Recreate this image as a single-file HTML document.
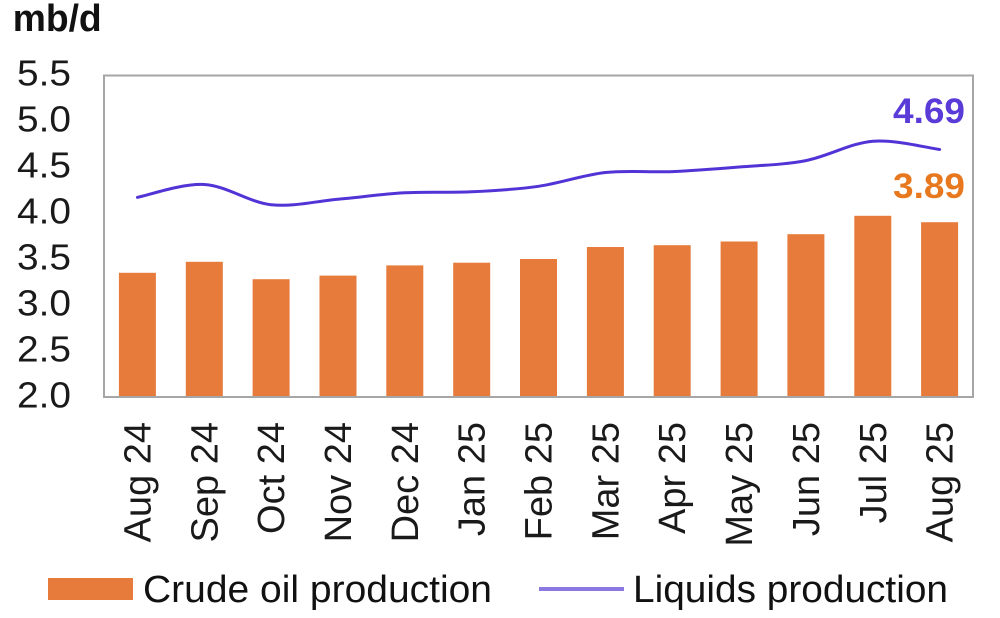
<!DOCTYPE html>
<html>
<head>
<meta charset="utf-8">
<style>
  html, body { margin: 0; padding: 0; background: #ffffff; }
  body { width: 1000px; height: 618px; overflow: hidden; }
  svg { display: block; }
  text { font-family: "Liberation Sans", Arial, sans-serif; }
</style>
</head>
<body>
<svg width="1000" height="618" viewBox="0 0 1000 618" xmlns="http://www.w3.org/2000/svg">
  <rect x="0" y="0" width="1000" height="618" fill="#ffffff"/>

  <!-- unit label -->
  <text x="12.7" y="31" font-size="38" font-weight="bold" fill="#111" textLength="89" lengthAdjust="spacingAndGlyphs">mb/d</text>

  <!-- y tick labels -->
  <g font-size="36" fill="#1a1a1a" text-anchor="end">
    <text x="71" y="85.5" textLength="54" lengthAdjust="spacingAndGlyphs">5.5</text>
    <text x="71" y="131.5" textLength="54" lengthAdjust="spacingAndGlyphs">5.0</text>
    <text x="71" y="177.5" textLength="54" lengthAdjust="spacingAndGlyphs">4.5</text>
    <text x="71" y="223.5" textLength="54" lengthAdjust="spacingAndGlyphs">4.0</text>
    <text x="71" y="269.5" textLength="54" lengthAdjust="spacingAndGlyphs">3.5</text>
    <text x="71" y="315.5" textLength="54" lengthAdjust="spacingAndGlyphs">3.0</text>
    <text x="71" y="361.5" textLength="54" lengthAdjust="spacingAndGlyphs">2.5</text>
    <text x="71" y="407.5" textLength="54" lengthAdjust="spacingAndGlyphs">2.0</text>
  </g>

  <!-- bars -->
  <g fill="#E67B3C">
    <rect x="118.9" y="272.8" width="37" height="124.2"/>
    <rect x="185.8" y="261.8" width="37" height="135.2"/>
    <rect x="252.6" y="279.2" width="37" height="117.8"/>
    <rect x="319.5" y="275.6" width="37" height="121.4"/>
    <rect x="386.3" y="265.4" width="37" height="131.6"/>
    <rect x="453.2" y="262.7" width="37" height="134.3"/>
    <rect x="520.0" y="259.0" width="37" height="138.0"/>
    <rect x="586.9" y="247.0" width="37" height="150.0"/>
    <rect x="653.7" y="245.2" width="37" height="151.8"/>
    <rect x="720.6" y="241.5" width="37" height="155.5"/>
    <rect x="787.4" y="234.2" width="37" height="162.8"/>
    <rect x="854.3" y="215.8" width="37" height="181.2"/>
    <rect x="921.1" y="222.2" width="37" height="174.8"/>
  </g>

  <!-- plot frame -->
  <rect x="104" y="75.5" width="869" height="321.5" fill="none" stroke="#A6A6A6" stroke-width="2"/>

  <!-- liquids line -->
  <path d="M137.4,197.4 C148.5,195.25 182.0,183.28 204.3,184.5
           C226.6,185.72 248.8,202.25 271.1,204.7
           C293.4,207.15 315.7,201.18 338.0,199.2
           C360.3,197.22 382.5,194.03 404.8,192.8
           C427.1,191.57 449.4,192.88 471.7,191.8
           C494.0,190.72 516.2,189.52 538.5,186.3
           C560.8,183.08 583.1,174.95 605.4,172.5
           C627.7,170.05 649.9,172.52 672.2,171.6
           C694.5,170.68 716.8,168.83 739.1,167.0
           C761.4,165.17 783.6,164.9 805.9,160.6
           C828.2,156.3 850.5,143.05 872.8,141.2
           C895.1,139.35 928.5,148.12 939.6,149.5"
        fill="none" stroke="#5234D6" stroke-width="3" stroke-linecap="round" stroke-linejoin="round"/>

  <!-- data labels -->
  <text x="965" y="123" font-size="35" font-weight="bold" fill="#5A3BD8" text-anchor="end" textLength="72" lengthAdjust="spacingAndGlyphs">4.69</text>
  <text x="965" y="198" font-size="35" font-weight="bold" fill="#E8781E" text-anchor="end" textLength="72" lengthAdjust="spacingAndGlyphs">3.89</text>

  <!-- x labels -->
  <g font-size="38" fill="#1a1a1a" text-anchor="end">
    <text transform="translate(150.4,422) rotate(-90)">Aug 24</text>
    <text transform="translate(217.3,422) rotate(-90)">Sep 24</text>
    <text transform="translate(284.1,422) rotate(-90)">Oct 24</text>
    <text transform="translate(351.0,422) rotate(-90)">Nov 24</text>
    <text transform="translate(417.8,422) rotate(-90)">Dec 24</text>
    <text transform="translate(484.7,422) rotate(-90)">Jan 25</text>
    <text transform="translate(551.5,422) rotate(-90)">Feb 25</text>
    <text transform="translate(618.4,422) rotate(-90)">Mar 25</text>
    <text transform="translate(685.2,422) rotate(-90)">Apr 25</text>
    <text transform="translate(752.1,422) rotate(-90)">May 25</text>
    <text transform="translate(818.9,422) rotate(-90)">Jun 25</text>
    <text transform="translate(885.8,422) rotate(-90)">Jul 25</text>
    <text transform="translate(952.6,422) rotate(-90)">Aug 25</text>
  </g>

  <!-- legend -->
  <rect x="48" y="578" width="85" height="22" fill="#E67B3C"/>
  <text x="143" y="602" font-size="38" fill="#111" textLength="349" lengthAdjust="spacingAndGlyphs">Crude oil production</text>
  <line x1="539" y1="589" x2="624" y2="589" stroke="#8B78E0" stroke-width="4"/>
  <text x="633" y="602" font-size="38" fill="#111" textLength="315" lengthAdjust="spacingAndGlyphs">Liquids production</text>
</svg>
</body>
</html>
